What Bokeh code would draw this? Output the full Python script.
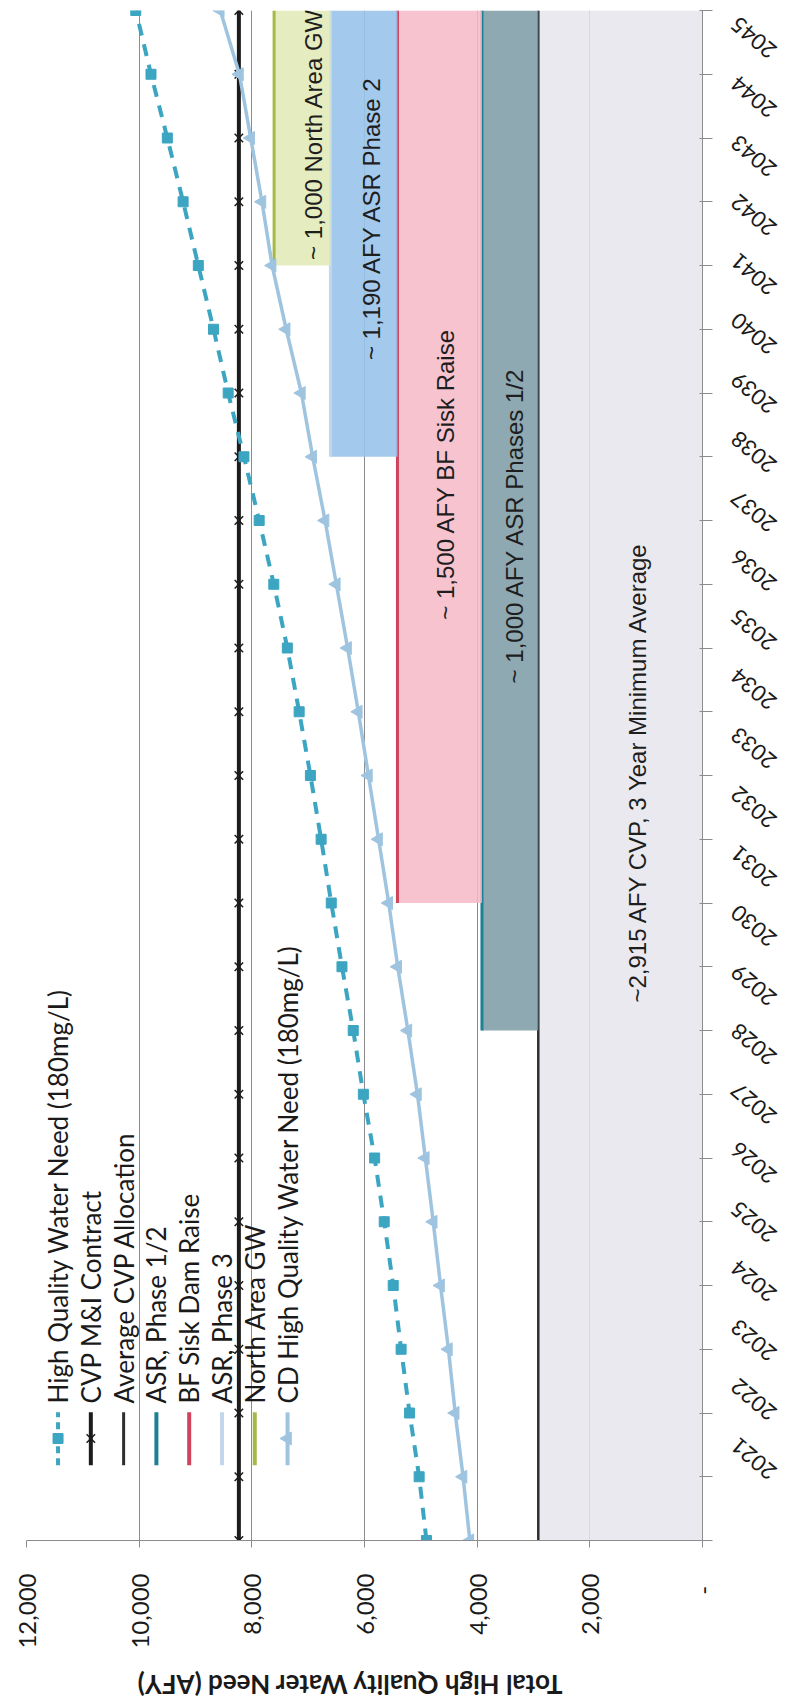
import math

from bokeh.core.properties import value
from bokeh.embed import file_html
from bokeh.layouts import column, row
from bokeh.models import (ColumnDataSource, FixedTicker, Label,
                          NumeralTickFormatter, Range1d)
from bokeh.plotting import figure
from bokeh.resources import INLINE

# ---------------------------------------------------------------- data
years = list(range(2021, 2046))

# High quality water need (180 mg/L), AFY
hq_need = [4900, 5030, 5200, 5350, 5490, 5650, 5820, 6020, 6200, 6400,
           6590, 6770, 6960, 7160, 7370, 7610, 7870, 8140, 8420, 8680,
           8950, 9220, 9500, 9790, 10060]

# CD high quality water need (180 mg/L), AFY
cd_need = [4130, 4250, 4390, 4510, 4650, 4780, 4920, 5060, 5230, 5410,
           5570, 5750, 5930, 6110, 6300, 6500, 6700, 6920, 7120, 7390,
           7640, 7820, 8020, 8220, 8560]

cvp_mi_contract = 8230      # AFY, flat over the period
avg_cvp_allocation = 2915   # AFY, 3 year minimum average

# stacked supply blocks
supply_names = ["CVP, 3 Year Minimum Average", "ASR, Phase 1/2",
                "BF Sisk Dam Raise", "ASR, Phase 3", "North Area GW"]
supply_afy = [2915, 1000, 1500, 1190, 1000]
supply_start = [2021, 2029, 2031, 2038, 2041]
supply_text = ["~2,915 AFY CVP, 3 Year Minimum Average",
               "~ 1,000 AFY ASR Phases 1/2",
               "~ 1,500 AFY BF Sisk Raise",
               "~ 1,190 AFY ASR Phase 2",
               "~ 1,000 North Area GW"]

value_ticks = [0, 2000, 4000, 6000, 8000, 10000, 12000]

legend_names = ["High Quality Water Need (180mg/L)", "CVP M&I Contract",
                "Average CVP Allocation", "ASR, Phase 1/2", "BF Sisk Dam Raise",
                "ASR, Phase 3", "North Area GW",
                "CD High Quality Water Need (180mg/L)"]

axis_title = "Total High Quality Water Need (AFY)"

# ---------------------------------------------------------------- styles
HQ_COLOR = "#3ca5c1"
CD_COLOR = "#9fc4e0"
CVP_COLOR = "#1c1c1c"
AVG_COLOR = "#2e2e2e"
GRID = "#8c8c8c"
TEXT = "#1a1a1a"
band_fill = ["#e6e5ec", "#7b9aa4", "#f5b8c6", "#99c3ea", "#e2eab8"]
band_alpha = [0.85, 0.85, 0.85, 0.9, 0.9]
band_line = [AVG_COLOR, "#1f7f93", "#d0435c", "#c2d7ec", "#a6b848"]
CALIBRI_LIKE = "Lato"
ARIAL_LIKE = "Liberation Sans"

# ---------------------------------------------------------------- layout
PAGE_W, PAGE_H = 788, 1703
TITLE_H = 43                       # strip under the value axis for its title
MAIN_H = PAGE_H - TITLE_H
TOP, BOTTOM = 10, 120
LEFT, RIGHT_OF_FRAME = 26, 86
MAIN_W = 722                       # main plot incl. the right tick axis
frame_h = MAIN_H - TOP - BOTTOM
px_per_year = frame_h / (years[-1] - years[0])

# chart laid on its side: need on the horizontal axis (reversed),
# years running up the vertical axis
p = figure(width=MAIN_W, height=MAIN_H, output_backend="svg",
           toolbar_location=None,
           x_range=Range1d(12000, 0), y_range=Range1d(years[0], years[-1]),
           y_axis_location="right",
           min_border_left=LEFT, min_border_right=MAIN_W - (PAGE_W - RIGHT_OF_FRAME),
           min_border_top=TOP, min_border_bottom=BOTTOM)
p.outline_line_color = None
p.background_fill_color = "white"
p.border_fill_color = "white"

p.ygrid.grid_line_color = None
p.xgrid.ticker = FixedTicker(ticks=value_ticks)
p.xgrid.grid_line_color = GRID
p.xgrid.grid_line_width = 1

xax = p.xaxis[0]
xax.ticker = FixedTicker(ticks=value_ticks)
xax.formatter = NumeralTickFormatter(format="0,0")
xax.major_label_overrides = {0: "-" + "\u00a0" * 2}
xax.major_label_orientation = math.pi / 2
xax.major_label_text_font = CALIBRI_LIKE
xax.major_label_text_font_size = "24px"
xax.major_label_text_color = TEXT
xax.major_label_standoff = 26
xax.major_tick_out = 7
xax.major_tick_in = 0
xax.minor_tick_line_color = None
xax.axis_line_color = GRID
xax.major_tick_line_color = GRID

yax = p.yaxis[0]
yax.ticker = FixedTicker(ticks=years)
yax.major_label_overrides = {y: "" for y in years}
yax.major_tick_out = 10
yax.major_tick_in = 3
yax.minor_tick_line_color = None
yax.axis_line_color = GRID
yax.major_tick_line_color = GRID

# ---------------------------------------------------------------- supply blocks
lo = 0
for i, amt in enumerate(supply_afy):
    hi = lo + amt
    p.harea(x1=[lo, lo], x2=[hi, hi], y=[supply_start[i], years[-1]],
            fill_color=band_fill[i], fill_alpha=band_alpha[i])
    p.line(x=[hi, hi], y=[supply_start[i], years[-1]],
           line_color=band_line[i], line_width=3 if i else 2.5)
    lo = hi

# block captions (value, year of the caption centre)
caption_pos = [(1150, 2033.06), (3340, 2036.93), (4560, 2037.73),
               (5870, 2041.75), (6910, 2043.06)]
for txt, (cx, cy) in zip(supply_text, caption_pos):
    p.add_layout(Label(x=cx, y=cy, text=txt, angle=math.pi / 2,
                       text_align="center", text_baseline="middle",
                       text_font=ARIAL_LIKE, text_font_size="24px",
                       text_color="#1e1e1e"))

# ---------------------------------------------------------------- demand lines
src = ColumnDataSource(dict(year=years, hq=hq_need, cd=cd_need,
                            cvp=[cvp_mi_contract] * len(years)))

p.line("cvp", "year", source=src, line_color=CVP_COLOR, line_width=4)
p.scatter("cvp", "year", source=src, marker="x", size=12,
          line_color=CVP_COLOR, line_width=1.5)

p.line("hq", "year", source=src, line_color=HQ_COLOR, line_width=4,
       line_dash="12 9")
p.scatter("hq", "year", source=src, marker="square", size=10,
          fill_color=HQ_COLOR, line_color=HQ_COLOR)

p.line("cd", "year", source=src, line_color=CD_COLOR, line_width=3.5)
p.scatter("cd", "year", source=src, marker="triangle", angle=math.pi / 2,
          size=13, fill_color=CD_COLOR, line_color=CD_COLOR)

# ---------------------------------------------------------------- legend
leg_x0, leg_step = 11440, 582
leg_y0, leg_y1, leg_mid, leg_text_y = 2022.18, 2023.01, 2022.6, 2023.15
leg_colors = [HQ_COLOR, CVP_COLOR, AVG_COLOR, band_line[1], band_line[2],
              band_line[3], band_line[4], CD_COLOR]
for i, name in enumerate(legend_names):
    lx = leg_x0 - i * leg_step
    dash = "7 5" if i == 0 else "solid"
    p.segment(x0=[lx], y0=[leg_y0], x1=[lx], y1=[leg_y1],
              line_color=leg_colors[i], line_width=4 if i != 2 else 3,
              line_dash=dash)
    if i == 0:
        p.scatter(x=[lx], y=[leg_mid], marker="square", size=10,
                  fill_color=HQ_COLOR, line_color=HQ_COLOR)
    elif i == 1:
        p.scatter(x=[lx], y=[leg_mid], marker="x", size=12,
                  line_color=CVP_COLOR, line_width=1.5)
    elif i == 7:
        p.scatter(x=[lx], y=[leg_mid], marker="triangle", angle=math.pi / 2,
                  size=13, fill_color=CD_COLOR, line_color=CD_COLOR)
    p.add_layout(Label(x=lx, y=leg_text_y, text=name, angle=math.pi / 2,
                       text_align="left", text_baseline="middle",
                       text_font=CALIBRI_LIKE, text_font_size="26px",
                       text_color=TEXT))

# ---------------------------------------------------------------- year labels
# narrow strip to the right of the tick axis, same vertical scale as the
# main plot, so the slanted year labels can hang below their ticks
strip_w = PAGE_W - MAIN_W
strip_bottom = 3
strip_start = years[-1] - (MAIN_H - TOP - strip_bottom) / px_per_year
ys = figure(width=strip_w, height=MAIN_H, output_backend="svg",
            toolbar_location=None, x_axis_location=None, y_axis_location=None,
            x_range=Range1d(0, strip_w), y_range=Range1d(strip_start, years[-1]),
            min_border_left=0, min_border_right=0,
            min_border_top=TOP, min_border_bottom=strip_bottom)
ys.outline_line_color = None
ys.grid.visible = False
ys.background_fill_color = "white"
ys.border_fill_color = "white"

ylab = ColumnDataSource(dict(x=[12] * len(years),
                             y=[y - 11 / px_per_year for y in years],
                             text=[str(y) for y in years]))
ys.text(x="x", y="y", text="text", source=ylab, angle=2.44,
        text_align="right", text_baseline="middle",
        text_font=value(CALIBRI_LIKE), text_font_size=value("22px"),
        text_color=TEXT)

# ---------------------------------------------------------------- axis title
# upside-down title under the value axis
ts = figure(width=PAGE_W, height=TITLE_H, output_backend="svg",
            toolbar_location=None, x_axis_location=None, y_axis_location=None,
            x_range=Range1d(12000, 0), y_range=Range1d(0, TITLE_H),
            min_border_left=LEFT, min_border_right=RIGHT_OF_FRAME,
            min_border_top=0, min_border_bottom=0)
ts.outline_line_color = None
ts.grid.visible = False
ts.background_fill_color = "white"
ts.border_fill_color = "white"
ts.text(x=[6270], y=[19], text=[axis_title], angle=math.pi,
        text_align="center", text_baseline="middle",
        text_font=value(CALIBRI_LIKE), text_font_style="bold",
        text_font_size=value("26px"), text_color=TEXT)

layout = column(row(p, ys, spacing=0), ts, spacing=0)
open("out.html", "w").write(file_html(layout, INLINE))
